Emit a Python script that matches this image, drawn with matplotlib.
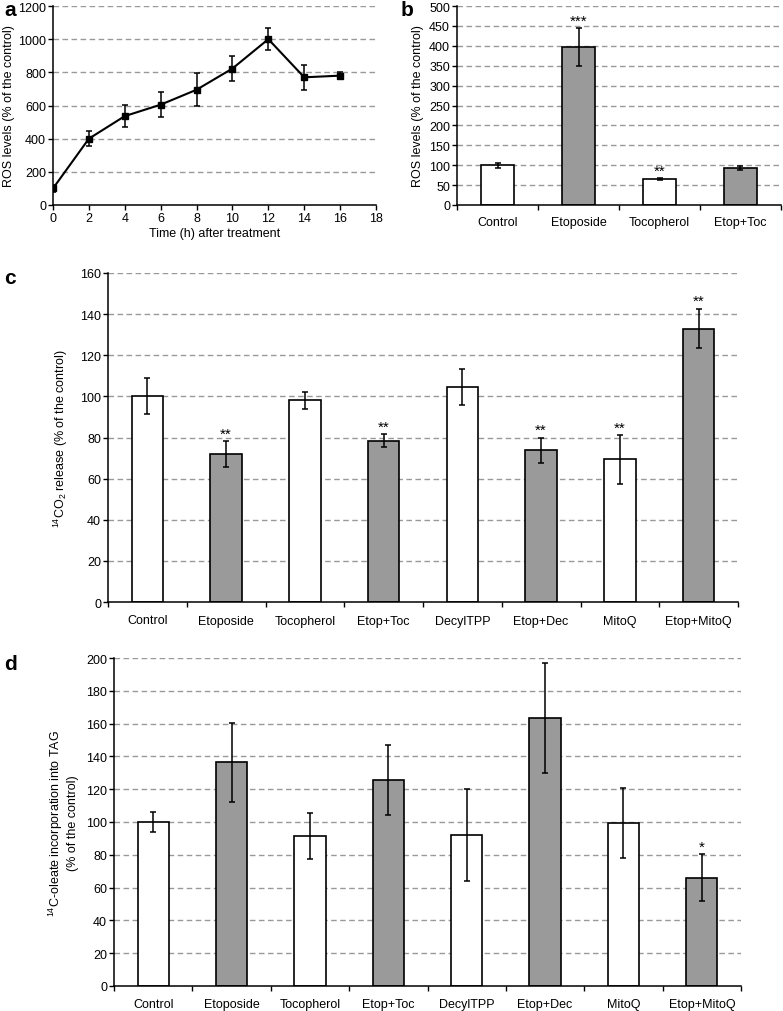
import matplotlib
matplotlib.use("Agg")
import matplotlib.pyplot as plt
import numpy as np

plt.rcParams['font.family'] = ['Liberation Sans', 'DejaVu Sans']
plt.rcParams['mathtext.fontset'] = 'custom'
plt.rcParams['mathtext.rm'] = 'Liberation Sans'

# ---- Data ----
# Panel a
time_h = [0, 2, 4, 6, 8, 10, 12, 14, 16]
ros_time = [100, 400, 536, 605, 695, 823, 1000, 770, 780]
ros_time_err = [22, 46, 68, 74, 98, 75, 65, 74, 22]

# Panel b
cats_b = ["Control", "Etoposide", "Tocopherol", "Etop+Toc"]
ros_b = [100, 397, 65, 93]
ros_b_err = [6, 47, 3, 4]
stars_b = ["", "***", "**", ""]

# Panel c
cats_cd = ["Control", "Etoposide", "Tocopherol", "Etop+Toc", "DecylTPP",
           "Etop+Dec", "MitoQ", "Etop+MitoQ"]
co2_c = [100, 72, 98, 78.5, 104.6, 73.7, 69.4, 133]
co2_c_err = [8.8, 6.3, 4, 3, 8.8, 6.3, 11.8, 9.6]
stars_c = ["", "**", "", "**", "", "**", "**", "**"]

# Panel d
tag_d = [100, 136.3, 91.5, 125.7, 92.2, 163.4, 99.3, 66.1]
tag_d_err = [6, 23.8, 13.9, 21.3, 28.2, 33.5, 21.2, 14.2]
stars_d = ["", "", "", "", "", "", "", "*"]

# alternating fill: white for single agents, grey for combos
fill_b = ["white", "#9a9a9a", "white", "#9a9a9a"]
fill_cd = ["white", "#9a9a9a"] * 4

W, H = 783, 1012
fig = plt.figure(figsize=(W / 100, H / 100), dpi=100)

def add_ax(l, r, t, b):
    return fig.add_axes([l / W, 1 - b / H, (r - l) / W, (b - t) / H])

FS = 9
GRID = dict(color="#999999", linestyle=(0, (4, 2.5)), linewidth=1.0)

def style(ax):
    for s in ["top", "right"]:
        ax.spines[s].set_visible(False)
    for s in ["left", "bottom"]:
        ax.spines[s].set_linewidth(1.1)
    ax.tick_params(axis="y", direction="out", length=3.5, width=1.0,
                   labelsize=FS, pad=1.5)
    ax.set_axisbelow(True)

def ylabel_at(ax, text, xpx, l, r):
    # xpx = right edge of the rotated label, in figure pixels
    ax.set_ylabel(text, fontsize=FS)
    ax.yaxis.set_label_coords((xpx - l) / (r - l), 0.5)

# ---- Panel a ----
la, ra, ta, ba = 53, 376, 7, 206
ax = add_ax(la, ra, ta, ba)
style(ax)
ax.errorbar(time_h, ros_time, yerr=ros_time_err, color="black", lw=1.5,
            marker="s", markersize=4.5, capsize=2.5, elinewidth=1.1,
            capthick=1.1)
ax.set_xlim(0, 18)
ax.set_ylim(0, 1200)
ax.set_xticks(np.arange(0, 19, 2))
ax.set_yticks(np.arange(0, 1201, 200))
for y in np.arange(200, 1201, 200):
    ax.axhline(y, zorder=0, **GRID)
ax.tick_params(axis="x", direction="out", length=3.5, width=1.0,
               labelsize=FS, pad=1.5)
ax.set_xlabel("Time (h) after treatment", fontsize=FS, labelpad=2)
ylabel_at(ax, "ROS levels (% of the control)", 15, la, ra)
fig.text(4 / W, 1 - 16 / H, "a", fontsize=15, fontweight="bold")

def bar_panel(l, r, t, b, cats, vals, errs, fills, stars, ymax, ystep,
              ylab, ylab_x, letter, letter_xy, star_off, pad):
    ax = add_ax(l, r, t, b)
    style(ax)
    x = np.arange(len(cats))
    for y in np.arange(ystep, ymax + 0.1, ystep):
        ax.axhline(y, zorder=0, **GRID)
    ax.bar(x, vals, width=0.4, color=fills, edgecolor="black",
           linewidth=1.2, zorder=2)
    ax.errorbar(x, vals, yerr=errs, fmt="none", ecolor="black",
                elinewidth=1.1, capsize=2.5, capthick=1.1, zorder=3)
    for xi, v, e, s in zip(x, vals, errs, stars):
        if s:
            ax.text(xi, v + e + star_off, s, ha="center", va="bottom",
                    fontsize=11)
    ax.set_xlim(-0.5, len(cats) - 0.5)
    ax.set_ylim(0, ymax)
    ax.set_yticks(np.arange(0, ymax + 0.1, ystep))
    ax.set_xticks(x)
    ax.set_xticklabels(cats)
    ax.set_xticks(np.arange(-0.5, len(cats), 1.0), minor=True)
    ax.tick_params(axis="x", which="major", length=0, labelsize=FS, pad=pad)
    ax.tick_params(axis="x", which="minor", direction="out", length=3.5,
                   width=1.0)
    ylabel_at(ax, ylab, ylab_x, l, r)
    fig.text(letter_xy[0] / W, 1 - letter_xy[1] / H, letter, fontsize=15,
             fontweight="bold")
    return ax

# ---- Panel b ----
bar_panel(457, 781, 7, 206, cats_b, ros_b, ros_b_err, fill_b, stars_b,
          500, 50, "ROS levels (% of the control)", 424, "b", (401, 16), 1,
          8)

# ---- Panel c ----
bar_panel(108, 738, 274, 603, cats_cd, co2_c, co2_c_err, fill_cd, stars_c,
          160, 20, r"$^{14}$CO$_2$ release (% of the control)", 70, "c",
          (4, 284), 0.3, 9)

# ---- Panel d ----
bar_panel(114, 741, 659, 987, cats_cd, tag_d, tag_d_err, fill_cd, stars_d,
          200, 20,
          "$^{14}$C-oleate incorporation into TAG\n(% of the control)",
          79, "d", (4, 670), 0.5, 9)

fig.savefig("out.png", dpi=100, facecolor="white")
